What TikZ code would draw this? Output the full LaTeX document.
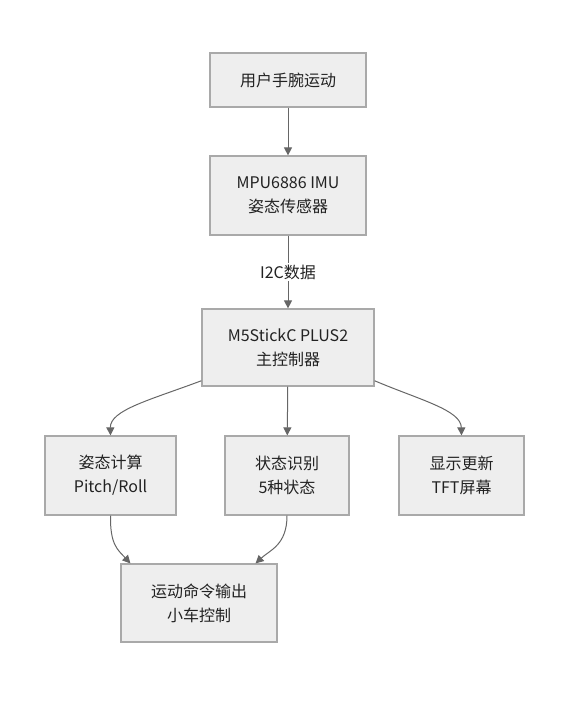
\documentclass[tikz,border=0pt]{standalone}
\usepackage{fontspec}
\usetikzlibrary{arrows.meta}
\newfontfamily\cjk{Noto Sans CJK SC}
\definecolor{BoxFill}{HTML}{EEEEEE}
\definecolor{BoxLine}{HTML}{A9A9A9}
\definecolor{EdgeLine}{HTML}{666666}
\definecolor{DarkText}{HTML}{222222}
\tikzset{
  box/.style={draw=BoxLine, fill=BoxFill, line width=0.9pt, align=center, text=DarkText, inner sep=0pt, font=\cjk\fontsize{12pt}{18pt}\selectfont},
  arr/.style={-{Triangle[length=6pt,width=6pt]}, draw=EdgeLine, line width=0.75pt},
  lbl/.style={fill=white, text=DarkText, inner sep=1.5pt, font=\cjk\fontsize{12pt}{18pt}\selectfont}
}
\begin{document}
\begin{tikzpicture}[x=0.75pt,y=-0.75pt]
\useasboundingbox (0,0) rectangle (584,703);
\node[box,minimum width=117pt,minimum height=40.5pt] (wrist) at (288,80) {用户手腕运动};
\node[box,minimum width=117pt,minimum height=59.25pt] (imu) at (288,195.5) {MPU6886 IMU\\姿态传感器};
\node[box,minimum width=129pt,minimum height=57.75pt] (ctl) at (288,347.5) {M5StickC PLUS2\\主控制器};
\node[box,minimum width=98.25pt,minimum height=59.25pt] (calc) at (110.5,475.5) {姿态计算\\Pitch/Roll};
\node[box,minimum width=93pt,minimum height=59.25pt] (state) at (287,475.5) {状态识别\\5种状态};
\node[box,minimum width=93.75pt,minimum height=59.25pt] (disp) at (461.5,475.5) {显示更新\\TFT屏幕};
\node[box,minimum width=117pt,minimum height=58.5pt] (out) at (199,603) {运动命令输出\\小车控制};
% edges
\draw[arr] (wrist) -- (imu);
\draw[arr] (imu) -- node[lbl] {I2C数据} (ctl);
\draw[arr] (ctl.201) .. controls (150,400) and (110,410) .. (calc.north);
\draw[arr] (ctl) -- (state);
\draw[arr] (ctl.339) .. controls (420,400) and (461,410) .. (disp.north);
\draw[arr] (calc.south) .. controls (110,545) and (118,550) .. (out.150);
\draw[arr] (state.south) .. controls (287,545) and (270,550) .. (out.35);
\end{tikzpicture}
\end{document}
